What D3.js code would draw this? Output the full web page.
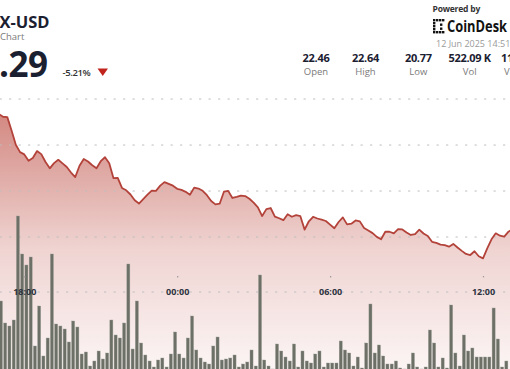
<!DOCTYPE html>
<html><head><meta charset="utf-8">
<script src="https://cdn.jsdelivr.net/npm/d3@7"></script>
<style>
html,body{margin:0;padding:0;background:#fff;overflow:hidden}
svg{display:block;font-family:"Open Sans",sans-serif}
</style></head><body>
<svg id="c" width="510" height="369"></svg>
<script>
// ---- data ----
const seriesStart = "2025-06-11T17:00:00";   // first 10-minute interval
const intervalMinutes = 10;
const priceValues = [
22.337,22.307,22.303,22.158,22.003,21.923,21.898,21.828,21.858,21.934,
21.901,21.815,21.746,21.803,21.839,21.800,21.761,21.701,21.652,21.774,
21.848,21.821,21.780,21.748,21.824,21.867,21.801,21.639,21.642,21.533,
21.508,21.462,21.400,21.364,21.412,21.461,21.505,21.502,21.558,21.597,
21.577,21.558,21.524,21.512,21.491,21.459,21.537,21.527,21.502,21.454,
21.391,21.355,21.362,21.492,21.501,21.424,21.436,21.450,21.445,21.416,
21.374,21.322,21.228,21.303,21.315,21.222,21.204,21.183,21.247,21.220,
21.237,21.226,21.080,21.171,21.220,21.201,21.188,21.174,21.135,21.095,
21.163,21.213,21.137,21.145,21.180,21.170,21.097,21.070,21.042,21.001,
20.975,21.057,21.057,21.040,21.085,21.082,21.050,21.022,21.032,21.080,
21.038,21.011,20.948,20.936,20.917,20.911,20.895,20.925,20.886,20.849,
20.816,20.804,20.845,20.791,20.768,20.877,20.975,21.040,21.014,21.005,
21.058,21.087];
const volumeValues = [
6.9,4.7,4.4,5.0,15.4,11.6,10.5,11.3,2.4,6.4,
1.4,3.2,11.6,4.6,4.4,4.1,2.8,4.9,4.3,1.6,
1.8,0.4,0.9,1.9,1.1,1.7,5.0,3.5,3.2,4.7,
10.6,2.1,6.9,2.7,1.5,0.9,0.3,1.0,1.2,0.3,
1.6,3.8,1.6,1.2,3.2,5.4,2.0,1.2,0.8,0.6,
2.4,3.3,1.0,1.1,1.2,1.5,0.3,0.6,0.8,2.0,
0.4,9.5,1.0,0.4,0.1,2.6,1.9,1.3,0.9,2.6,
0.3,1.9,0.9,0.7,1.6,1.9,0.3,0.7,0.7,0.7,
2.9,2.0,1.7,0.4,1.3,0.2,2.7,6.6,1.7,2.5,
1.4,0.6,0.6,0.9,0.2,0.1,0.6,1.7,0.3,0.1,
0.3,4.0,2.7,0.3,1.2,0.2,6.5,1.7,0.4,3.5,
1.9,2.2,1.3,1.3,1.3,1.3,6.2,3.1,0.3,0.9];
const priceGridLevels = [22.5, 22.0, 21.5, 21.0];
const tickTimes = ["2025-06-11T18:00:00","2025-06-12T00:00:00","2025-06-12T06:00:00","2025-06-12T12:00:00"];
const tickLabels = ["18:00","00:00","06:00","12:00"];
const statValues = ["22.46","22.64","20.77","522.09 K","11.62 M"];
const statLabels = ["Open","High","Low","Vol","Vol (USD)"];
const titleText = "X-USD", subtitleText = "Chart", priceText = ".29", changeText = "-5.21%";
const poweredText = "Powered by", brandText = "CoinDesk", stampText = "12 Jun 2025 14:51";

// ---- build ----
const svg = d3.select("#c");
const W = 510, H = 369;
const start = new Date(seriesStart);
const timeAt = i => d3.timeMinute.offset(start, i * intervalMinutes);
const priceData = priceValues.map((v, i) => ({t: timeAt(i), v}));
const volData = volumeValues.map((v, i) => ({t: timeAt(i), t2: timeAt(i + 1), v}));
const ticks = tickTimes.map(s => new Date(s));

const x = d3.scaleTime().domain([ticks[0], ticks[3]]).range([24.3, 483]);
const y = d3.scaleLinear().domain([21, 22.5]).range([237, 99]);
const yv = d3.scaleLinear().domain([0, 16]).range([370, 210]);

const defs = svg.append("defs");
const grad = defs.append("linearGradient").attr("id", "ag")
  .attr("gradientUnits", "userSpaceOnUse").attr("x1", 0).attr("x2", 0).attr("y1", 105).attr("y2", 369);
grad.append("stop").attr("offset", 0).attr("stop-color", "#c0544a").attr("stop-opacity", 0.72);
grad.append("stop").attr("offset", 0.55).attr("stop-color", "#c0544a").attr("stop-opacity", 0.25);
grad.append("stop").attr("offset", 1).attr("stop-color", "#c0544a").attr("stop-opacity", 0.06);

// area
svg.append("path").datum(priceData)
  .attr("d", d3.area().x(d => x(d.t)).y0(H + 2).y1(d => y(d.v)))
  .attr("fill", "url(#ag)");

// gridlines
svg.append("g").selectAll("line").data(priceGridLevels).join("line")
  .attr("x1", 0).attr("x2", W).attr("y1", d => y(d)).attr("y2", d => y(d))
  .attr("stroke", "#bdbdbd").attr("stroke-width", 1.2)
  .attr("stroke-dasharray", "1.3 8.2").attr("stroke-linecap", "round");
svg.append("line").attr("x1", 0).attr("x2", W).attr("y1", 292).attr("y2", 292)
  .attr("stroke", "#bdbdbd").attr("stroke-width", 1.2)
  .attr("stroke-dasharray", "1.3 8.2").attr("stroke-linecap", "round");

// line
svg.append("path").datum(priceData)
  .attr("d", d3.line().x(d => x(d.t)).y(d => y(d.v)))
  .attr("fill", "none").attr("stroke", "#b3433a").attr("stroke-width", 1.8)
  .attr("stroke-linejoin", "round");

// volume bars
svg.append("g").selectAll("rect").data(volData).join("rect")
  .attr("x", d => x(d.t) + 0.6)
  .attr("width", d => x(d.t2) - x(d.t) - 1.2)
  .attr("y", d => yv(d.v))
  .attr("height", d => yv(0) - yv(d.v))
  .attr("fill", "#6c7066").attr("stroke", "#9a9d95").attr("stroke-width", 0.4);

// x axis
const ax = svg.append("g").attr("transform", "translate(0,292)")
  .call(d3.axisBottom(x).tickValues(ticks).tickFormat((d, i) => tickLabels[i]).tickSize(0).tickPadding(0));
ax.select(".domain").remove();
ax.selectAll(".tick text").attr("dy", "0.35em").attr("y", 0)
  .attr("font-family", "Open Sans").attr("font-size", 9).attr("font-weight", 700).attr("fill", "#2e3340");
ax.selectAll(".tick line").attr("y1", -16).attr("y2", -14.6).attr("stroke", "#9a9a9a").attr("stroke-width", 1.2);

// header left
svg.append("text").attr("x", -0.5).attr("y", 28).text(titleText)
  .attr("font-size", 16.5).attr("font-weight", 700).attr("fill", "#1b2030");
svg.append("text").attr("x", 0).attr("y", 40).text(subtitleText)
  .attr("font-size", 9.5).attr("fill", "#7a7a7a");
svg.append("text").attr("x", -1).attr("y", 77).text(priceText)
  .attr("font-size", 35).attr("font-weight", 700).attr("fill", "#1b2030").attr("letter-spacing", -0.5);
svg.append("text").attr("x", 62.5).attr("y", 75.5).text(changeText)
  .attr("font-size", 9.5).attr("font-weight", 600).attr("fill", "#333").attr("letter-spacing", -0.4);
svg.append("path").attr("d", "M97.5,68.5 L108,68.5 L102.75,76 Z").attr("fill", "#c0241c");

// header right
svg.append("text").attr("x", 432.5).attr("y", 11.5).text(poweredText)
  .attr("font-size", 8.5).attr("font-weight", 700).attr("fill", "#333").attr("letter-spacing", -0.2);
const icon = svg.append("g").attr("fill", "#111");
[[433,19],[436,19],[439,19],[442,19],[433,22],[433,25],[433,28],[433,31],[436,31],[439,31],[442,31],[440,23.5],[440,27.5]]
  .forEach(p => icon.append("rect").attr("x", p[0]).attr("y", p[1]).attr("width", 2.4).attr("height", 2.4));
svg.append("text").attr("x", 447).attr("y", 31.5).text(brandText)
  .attr("font-size", 15.5).attr("font-weight", 700).attr("fill", "#121212")
  .attr("textLength", 60).attr("lengthAdjust", "spacingAndGlyphs");
svg.append("text").attr("x", 436).attr("y", 46.5).text(stampText)
  .attr("font-size", 9).attr("fill", "#9a9a9a");

const statX = [316, 365.5, 418.3, 469.7, 501];
const stats = svg.append("g");
statValues.forEach((v, i) => {
  stats.append("text").attr("x", statX[i]).attr("y", 61.5).text(v)
    .attr("text-anchor", i < 4 ? "middle" : "start")
    .attr("font-size", 11).attr("font-weight", 700).attr("fill", "#1b2030").attr("letter-spacing", -0.3);
  stats.append("text").attr("x", i < 4 ? statX[i] : 504).attr("y", 75).text(statLabels[i])
    .attr("text-anchor", i < 4 ? "middle" : "start")
    .attr("font-size", 9.5).attr("fill", "#7a7a7a");
});
</script></body></html>
